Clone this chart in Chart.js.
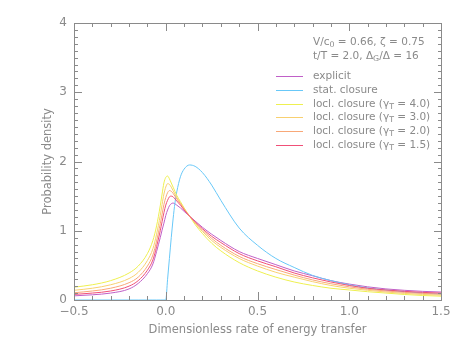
<!DOCTYPE html>
<html>
<head>
<meta charset="utf-8">
<script src="https://cdn.jsdelivr.net/npm/chart.js@4/dist/chart.umd.min.js"></script>
<style>
  html, body { margin:0; padding:0; background:#fff; }
  #wrap { width:463px; height:348px; }
</style>
</head>
<body>
<div id="wrap"><canvas id="pdfChart" width="463" height="348"></canvas></div>
<script>
/* DATA */
const xValues = [-0.5,-0.4,-0.3,-0.2,-0.15,-0.1,-0.07,-0.05,-0.03,-0.02,-0.01,0,
  0.01,0.02,0.03,0.04,0.05,0.06,0.08,0.1,0.13,0.16,0.2,0.25,0.3,0.4,0.5,0.6,0.7,0.8,0.9,1.0,1.1,1.2,1.3,1.4,1.5];

const explicitPdf = [0.06,0.075,0.10,0.16,0.24,0.38,0.52,0.70,0.90,1.01,1.11,1.22,
  1.30,1.36,1.39,1.40,1.39,1.37,1.33,1.28,1.21,1.14,1.05,0.95,0.86,0.70,0.60,0.51,0.42,0.35,0.28,0.23,0.19,0.16,0.14,0.125,0.115];

const statClosure = [0,0,0,0,0,0,0,0,0,0,0,0,
  0.30,0.60,0.90,1.17,1.40,1.56,1.78,1.89,1.95,1.93,1.84,1.66,1.44,1.04,0.79,0.60,0.47,0.355,0.28,0.22,0.175,0.145,0.12,0.10,0.085];

const locl40 = [0.185,0.22,0.28,0.39,0.49,0.67,0.86,1.07,1.36,1.53,1.69,1.77,
  1.79,1.75,1.69,1.63,1.57,1.51,1.42,1.33,1.21,1.09,0.96,0.82,0.71,0.54,0.42,0.33,0.26,0.21,0.17,0.145,0.12,0.10,0.08,0.065,0.055];

const locl30 = [0.14,0.17,0.22,0.31,0.40,0.57,0.74,0.95,1.22,1.38,1.53,1.63,
  1.68,1.67,1.63,1.58,1.53,1.48,1.40,1.32,1.21,1.11,0.99,0.86,0.76,0.60,0.49,0.40,0.33,0.265,0.21,0.17,0.14,0.115,0.095,0.08,0.07];

const locl20 = [0.105,0.13,0.17,0.25,0.33,0.49,0.65,0.85,1.10,1.24,1.38,1.48,
  1.55,1.58,1.57,1.54,1.50,1.46,1.39,1.31,1.21,1.12,1.01,0.89,0.79,0.63,0.525,0.44,0.36,0.29,0.235,0.19,0.155,0.13,0.11,0.095,0.085];

const locl15 = [0.08,0.10,0.13,0.20,0.28,0.43,0.58,0.77,1.00,1.13,1.26,1.37,
  1.44,1.49,1.50,1.49,1.46,1.43,1.37,1.30,1.21,1.13,1.03,0.92,0.83,0.67,0.565,0.48,0.39,0.32,0.26,0.21,0.17,0.145,0.125,0.11,0.10];

const xTicksMajor = [-0.5, 0.0, 0.5, 1.0, 1.5];
const yTicksMajor = [0, 1, 2, 3, 4];

const GRAY = "#8a8a8a";
const FONT = "DejaVu Sans";

function pts(ys) { return xValues.map((x, i) => ({ x: x, y: ys[i] })); }

const series = [
  { label: "explicit", data: explicitPdf, color: "#c060c8", leg: [["explicit"]] },
  { label: "stat. closure", data: statClosure, color: "#68c8f8", leg: [["stat. closure"]] },
  { label: "locl. closure 4.0", data: locl40, color: "#eef050", leg: [["locl. closure (γ"], ["T", 1], [" = 4.0)"]] },
  { label: "locl. closure 3.0", data: locl30, color: "#f8d070", leg: [["locl. closure (γ"], ["T", 1], [" = 3.0)"]] },
  { label: "locl. closure 2.0", data: locl20, color: "#f8a878", leg: [["locl. closure (γ"], ["T", 1], [" = 2.0)"]] },
  { label: "locl. closure 1.5", data: locl15, color: "#f05078", leg: [["locl. closure (γ"], ["T", 1], [" = 1.5)"]] }
];

/* draw text made of pieces, some as subscripts */
function drawRich(ctx, parts, x, y, size) {
  parts.forEach(p => {
    const sub = p[1];
    ctx.font = (sub ? size * 0.75 : size) + "px '" + FONT + "'";
    ctx.fillText(p[0], x, sub ? y + size * 0.3 : y);
    x += ctx.measureText(p[0]).width;
  });
}

/* FRAME, INWARD TICKS, LEGEND (filled 1px rects) */
const idlFrame = {
  id: "idlFrame",
  afterDraw(chart) {
    const ctx = chart.ctx, a = chart.chartArea;
    const xs = chart.scales.x, ys = chart.scales.y;
    const L = Math.round(a.left), R = Math.round(a.right);
    const T = Math.round(a.top), B = Math.round(a.bottom);
    ctx.save();
    ctx.globalAlpha = 1;
    ctx.globalCompositeOperation = "source-over";
    ctx.fillStyle = GRAY;
    ctx.fillRect(L, T, R - L + 1, 1);
    ctx.fillRect(L, B, R - L + 1, 1);
    ctx.fillRect(L, T, 1, B - T + 1);
    ctx.fillRect(R, T, 1, B - T + 1);
    for (let k = -5; k <= 15; k++) {
      const px = Math.round(xs.getPixelForValue(k / 10));
      const len = (k % 5 === 0) ? 8 : 4;
      ctx.fillRect(px, B - len, 1, len);
      ctx.fillRect(px, T, 1, len);
    }
    for (let k = 0; k <= 40; k++) {
      const py = Math.round(ys.getPixelForValue(k / 10));
      const len = (k % 10 === 0) ? 8 : 4;
      ctx.fillRect(L, py, len, 1);
      ctx.fillRect(R - len + 1, py, len, 1);
    }

    // annotation and legend
    ctx.textBaseline = "middle";
    ctx.textAlign = "left";
    const tx = 313, size = 10.5;
    drawRich(ctx, [["V/c"], ["0", 1], [" = 0.66, ζ = 0.75"]], tx, 42, size);
    drawRich(ctx, [["t/T = 2.0, Δ"], ["G", 1], ["/Δ = 16"]], tx, 56, size);
    series.forEach((s, i) => {
      const y = Math.round(76 + i * 13.8);
      ctx.fillStyle = s.color;
      ctx.fillRect(276, y, 27, 1);
      ctx.fillStyle = GRAY;
      drawRich(ctx, s.leg, tx, y, size);
    });
    ctx.restore();
  }
};

new Chart(document.getElementById("pdfChart"), {
  type: "line",
  data: {
    datasets: series.map((s, i) => ({
      label: s.label,
      data: pts(s.data),
      borderColor: s.color,
      borderWidth: 1,
      pointRadius: 0,
      fill: false,
      cubicInterpolationMode: "monotone",
      order: series.length - i
    }))
  },
  options: {
    responsive: false,
    animation: false,
    layout: { padding: { top: 23, right: 22, left: 0, bottom: 0 } },
    plugins: { legend: { display: false }, tooltip: { enabled: false } },
    scales: {
      x: {
        type: "linear", min: -0.5, max: 1.5,
        afterBuildTicks: s => { s.ticks = xTicksMajor.map(v => ({ value: v })); },
        afterFit: s => { s.height = 48; },
        grid: { display: false, drawTicks: false },
        border: { display: false },
        ticks: {
          color: GRAY, font: { family: FONT, size: 12 }, padding: 5, maxRotation: 0,
          callback: v => (v < 0 ? "−" : "") + Math.abs(v).toFixed(1)
        },
        title: { display: true, text: "Dimensionless rate of energy transfer",
                 color: GRAY, font: { family: FONT, size: 11.5 }, padding: { top: 0, bottom: 11 } }
      },
      y: {
        type: "linear", min: 0, max: 4,
        afterBuildTicks: s => { s.ticks = yTicksMajor.map(v => ({ value: v })); },
        afterFit: s => { s.width = 74; },
        grid: { display: false, drawTicks: false },
        border: { display: false },
        ticks: { color: GRAY, font: { family: FONT, size: 12 }, padding: 7,
                 callback: v => String(v) },
        title: { display: true, text: "Probability density",
                 color: GRAY, font: { family: FONT, size: 11.5 }, padding: { top: 41, bottom: 0 } }
      }
    }
  },
  plugins: [idlFrame]
});
</script>
</body>
</html>
